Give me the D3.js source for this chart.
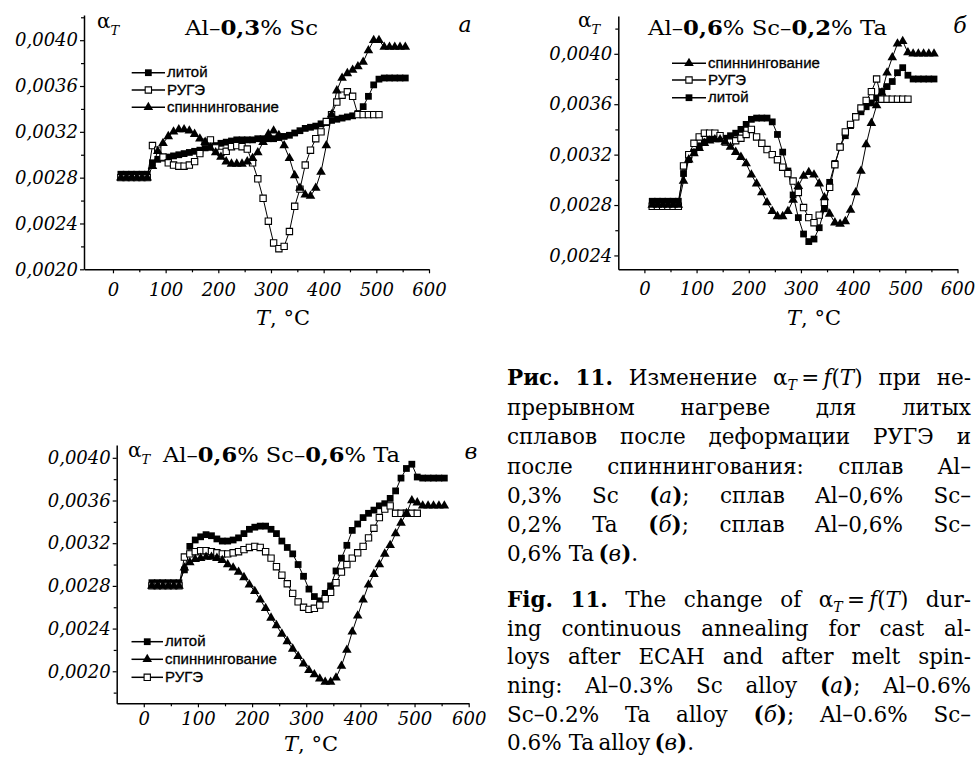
<!DOCTYPE html>
<html>
<head>
<meta charset="utf-8">
<script src="https://cdn.jsdelivr.net/npm/d3@7"></script>
<style>
  body { margin: 0; background: #fff; }
  svg { display: block; }
</style>
</head>
<body>
<svg id="fig" width="975" height="758"></svg>
<script>
// temperature grid, degC
const temps = [15, 25, 35, 45, 55, 65, 75, 85, 95, 105, 115, 125, 135, 145, 155, 165, 175, 185, 195, 205,
  215, 225, 235, 245, 255, 265, 275, 285, 295, 305, 315, 325, 335, 345, 355, 365, 375, 385, 395, 405,
  415, 425, 435, 445, 455, 465, 475, 485, 495, 505, 515, 525, 535, 545, 555];

// (а) Al-0,3% Sc
const castA = [.00283, .00283, .00283, .00283, .00283, .00283,
  .00293, .00296, .00297, .00298, .00299, .0030, .00301, .00302, .00303, .00304,
  .00306, .00307, .00308, .0031, .00311, .00312, .00313, .00313, .00313, .00313,
  .00314, .00314, .00314, .00314, .00315, .00316, .00317, .00319, .00321, .00323,
  .00324, .00325, .00327, .00328, .0033, .00331, .00332, .00333, .00334, .00336,
  .00342, .00351, .00361, .00366, .00367, .00367, .00367, .00367, .00367];
const rugeA = [.0028, .0028, .0028, .0028, .0028, .0028,
  .00308, .00304, .00298, .00293, .00291, .0029, .0029, .00291, .00294, .00301,
  .00311, .00313, .00306, .00302, .00303, .00307, .00308, .00307, .00305, .00293,
  .00279, .00262, .00242, .00223, .00218, .0022, .00233, .00255, .0027, .00291,
  .00304, .00314, .0032, .00329, .00335, .00346, .00352, .00355, .00351, .00335,
  .00335, .00335, .00335, .00335, null, null, null, null, null];
const spinA = [.0028, .0028, .0028, .0028, .0028, .0028,
  .0029, .00303, .0031, .00316, .0032, .00322, .00322, .00321, .00318, .00314,
  .00311, .00306, .00302, .00298, .00294, .00292, .00292, .00292, .00294, .00297,
  .00302, .00311, .00318, .00321, .00317, .00308, .00297, .00282, .00271, .00265,
  .00264, .00271, .00285, .00308, .00335, .00356, .00367, .00371, .00374, .00377,
  .00381, .00391, .004, .004, .00394, .00394, .00394, .00394, .00394];

// (б) Al-0,6% Sc-0,2% Ta
const castB = [.00283, .00283, .00283, .00283, .00283, .00283,
  .00305, .00316, .00322, .00327, .0033, .00332, .00333, .00333, .00333, .00335,
  .00337, .0034, .00344, .00348, .00349, .00349, .00349, .00346, .00336, .00322,
  .00307, .00288, .0027, .00257, .00251, .00253, .00262, .00277, .00298, .00313,
  .00326, .00335, .00343, .0035, .00354, .00358, .00361, .00365, .0037, .00374,
  .00378, .00385, .00389, .00383, .0038, .0038, .0038, .0038, .0038];
const rugeB = [.00279, .00279, .00279, .00279, .00279, .00279,
  .00311, .0032, .00329, .00334, .00337, .00337, .00337, .00335, .0033, .0033,
  .00331, .00333, .00336, .0034, .00334, .00329, .00324, .0032, .00316, .0031,
  .00305, .00299, .0029, .00278, .0027, .00266, .00272, .00282, .00294, .00312,
  .00326, .00338, .00344, .0035, .00357, .00363, .0037, .0038, .00364, .00364,
  .00364, .00364, .00364, .00364, null, null, null, null, null];
const spinB = [.0028, .0028, .0028, .0028, .0028, .0028,
  .00299, .00316, .00321, .00325, .00329, .00331, .00332, .00332, .0033, .00326,
  .00322, .00318, .00313, .00304, .00297, .0029, .00282, .00275, .00271, .00271,
  .00275, .00284, .00295, .00303, .00306, .00304, .00297, .00286, .00273, .00266,
  .00265, .00267, .00276, .0029, .00307, .00328, .00345, .00359, .00369, .00385,
  .00397, .00408, .0041, .00401, .004, .004, .004, .004, .004];

// (в) Al-0,6% Sc-0,6% Ta
const castC = [.00283, .00283, .00283, .00283, .00283, .00283,
  .00295, .00317, .00323, .00326, .00328, .00327, .00324, .00322, .00322, .00323,
  .00325, .00329, .00333, .00335, .00336, .00336, .00333, .00329, .00322, .00316,
  .0031, .003, .00289, .00277, .0027, .00266, .00273, .0028, .00294, .00306,
  .00318, .00332, .00338, .00344, .00348, .00351, .00355, .00357, .00362, .00369,
  .00381, .0039, .00394, .00382, .00381, .00381, .00381, .00381, .00381];
const rugeC = [.0028, .0028, .0028, .0028, .0028, .0028,
  .00307, .0031, .00312, .00313, .00313, .00312, .00311, .0031, .0031, .00311,
  .00312, .00314, .00316, .00317, .00316, .00312, .00306, .00298, .0029, .00282,
  .00273, .00265, .0026, .00258, .00259, .00262, .00268, .00274, .00283, .00293,
  .003, .00306, .00311, .00317, .00325, .00334, .00344, .00352, .00355, .00348,
  .00348, .00348, .00348, .00348, null, null, null, null, null];
const spinC = [.0028, .0028, .0028, .0028, .0028, .0028,
  .00297, .00302, .00305, .00306, .00307, .00307, .00306, .00304, .003, .00297,
  .00293, .00288, .00281, .00275, .00267, .00259, .0025, .00243, .00235, .00228,
  .00221, .00214, .00207, .00201, .00197, .00193, .0019, .0019, .00194, .00205,
  .0022, .00237, .00252, .00267, .00281, .00291, .003, .0031, .00318, .00329,
  .00339, .00348, .0036, .00358, .00355, .00355, .00355, .00355, .00355];

const seriesKeys = ["cast", "ruge", "spin"];
const seriesNames = { cast: "литой", ruge: "РУГЭ", spin: "спиннингование" };

const xTicks = [0, 100, 200, 300, 400, 500, 600];
const xMinor = [50, 150, 250, 350, 450, 550];
const yTicksA = [0.0020, 0.0024, 0.0028, 0.0032, 0.0036, 0.0040];
const yTicksB = [0.0024, 0.0028, 0.0032, 0.0036, 0.0040];
const yTicksC = [0.0020, 0.0024, 0.0028, 0.0032, 0.0036, 0.0040];
const yMinorA = [0.0022, 0.0026, 0.0030, 0.0034, 0.0038, 0.0042];
const yMinorB = [0.0026, 0.0030, 0.0034, 0.0038, 0.0042];
const yMinorC = [0.0018, 0.0022, 0.0026, 0.0030, 0.0034, 0.0038];

const captionRu = [
  "<b>Рис.</b> <b>11.</b> Изменение α<sub>T</sub>\u2009=\u2009<i>f</i>(<i>T</i>) при не-",
  "прерывном нагреве для литых",
  "сплавов после деформации РУГЭ и",
  "после спиннингования: сплав Al–",
  "0,3% Sc <b>(</b><i>а</i><b>)</b>; сплав Al–0,6% Sc–",
  "0,2% Ta <b>(</b><i>б</i><b>)</b>; сплав Al–0,6% Sc–",
  "0,6% Ta\u2009<b>(</b><i>в</i><b>)</b>."
];
const captionEn = [
  "<b>Fig.</b> <b>11.</b> The change of α<sub>T</sub>\u2009=\u2009<i>f</i>(<i>T</i>) dur-",
  "ing continuous annealing for cast al-",
  "loys after ECAH and after melt spin-",
  "ning: Al–0.3% Sc alloy <b>(</b><i>a</i><b>)</b>; Al–0.6%",
  "Sc–0.2% Ta alloy <b>(</b><i>б</i><b>)</b>; Al–0.6% Sc–",
  "0.6% Ta\u2009alloy\u2009<b>(</b><i>в</i><b>)</b>."
];

const serif = "'DejaVu Serif', serif";
const sans = "'Liberation Sans', Arial, sans-serif";
const svg = d3.select("#fig");
const fmtY = d => d3.format(".4f")(d).replace(".", ",");

const panels = [
  {
    xDomain: [-55, 600], xRange: [84, 429], yDomain: [0.0020, 0.00422], yRange: [269.3, 15],
    yTicks: yTicksA, yMinor: yMinorA, xPad: 10,
    data: { cast: castA, ruge: rugeA, spin: spinA },
    legend: ["cast", "ruge", "spin"], legX: [131.7, 165, 167], legY: [72.7, 90, 107.3],
    title: ["Al–", "0,3", "% Sc"], titleX: 185, titleW: 133, titleY: 35,
    alpha: [97, 28], letter: ["а", 465, 32], xTitle: [283, 325]
  },
  {
    xDomain: [-50, 600], xRange: [618.3, 957.5], yDomain: [0.00229, 0.0043], yRange: [269.3, 16],
    yTicks: yTicksB, yMinor: yMinorB, xPad: 9,
    data: { cast: castB, ruge: rugeB, spin: spinB },
    legend: ["spin", "ruge", "cast"], legX: [672, 706, 708], legY: [63.3, 80, 97.7],
    title: ["Al–", "0,6", "% Sc–", "0,2", "% Ta"], titleX: 648, titleW: 239, titleY: 35,
    alpha: [578, 27], letter: ["б", 960, 33], xTitle: [814, 325]
  },
  {
    xDomain: [-50, 600], xRange: [116.7, 468.7], yDomain: [0.0017, 0.00412], yRange: [703.3, 445],
    yTicks: yTicksC, yMinor: yMinorC, xPad: 5,
    data: { cast: castC, ruge: rugeC, spin: spinC },
    legend: ["cast", "spin", "ruge"], legX: [131.5, 163, 165], legY: [641.7, 659.3, 677.3],
    title: ["Al–", "0,6", "% Sc–", "0,6", "% Ta"], titleX: 163, titleW: 237, titleY: 462,
    alpha: [128, 457], letter: ["в", 471, 459], xTitle: [311, 751]
  }
];

const symSquare = d3.symbol(d3.symbolSquare, 46)();
const symOpen = d3.symbol(d3.symbolSquare, 40)();
const symTri = d3.symbol(d3.symbolTriangle, 40)();

function styleMarker(sel, key) {
  if (key === "cast") sel.attr("d", symSquare).attr("fill", "#000");
  else if (key === "ruge") sel.attr("d", symOpen).attr("fill", "#fff").attr("stroke", "#000").attr("stroke-width", 1.1);
  else sel.attr("d", symTri).attr("fill", "#000");
}

function drawPanel(p) {
  const x = d3.scaleLinear().domain(p.xDomain).range(p.xRange);
  const y = d3.scaleLinear().domain(p.yDomain).range(p.yRange);
  const g = svg.append("g");

  // axes
  const gx = g.append("g").attr("transform", `translate(0,${p.yRange[0]})`)
    .call(d3.axisBottom(x).tickValues(xTicks).tickSize(4).tickSizeOuter(0).tickPadding(p.xPad));
  g.append("g").attr("transform", `translate(0,${p.yRange[0]})`)
    .call(d3.axisBottom(x).tickValues(xMinor).tickSize(3).tickFormat(""))
    .call(a => a.select(".domain").remove());
  const gy = g.append("g").attr("transform", `translate(${p.xRange[0]},0)`)
    .call(d3.axisLeft(y).tickValues(p.yTicks).tickSize(4).tickSizeOuter(0).tickPadding(2).tickFormat(fmtY));
  g.append("g").attr("transform", `translate(${p.xRange[0]},0)`)
    .call(d3.axisLeft(y).tickValues(p.yMinor).tickSize(3).tickFormat(""))
    .call(a => a.select(".domain").remove());
  [gx, gy].forEach(a => {
    a.attr("font-family", serif).attr("font-size", 18).attr("font-style", "italic");
    a.selectAll("text").attr("fill", "#000");
  });
  g.selectAll(".domain").attr("stroke", "#000").attr("stroke-width", 1.5);
  g.selectAll(".tick line").attr("stroke", "#000").attr("stroke-width", 1.2);

  // series
  const line = d3.line().x(d => x(d.t)).y(d => y(d.v));
  seriesKeys.forEach(key => {
    const pts = temps.map((t, i) => ({ t, v: p.data[key][i] })).filter(d => d.v != null);
    g.append("path").datum(pts).attr("d", line)
      .attr("fill", "none").attr("stroke", "#000").attr("stroke-width", 1);
  });
  seriesKeys.forEach(key => {
    const pts = temps.map((t, i) => ({ t, v: p.data[key][i] })).filter(d => d.v != null);
    g.append("g").selectAll("path").data(pts).join("path")
      .attr("transform", d => `translate(${x(d.t)},${y(d.v)})`)
      .call(styleMarker, key);
  });

  // legend
  p.legend.forEach((key, i) => {
    const ly = p.legY[i];
    g.append("line").attr("x1", p.legX[0]).attr("x2", p.legX[1]).attr("y1", ly).attr("y2", ly)
      .attr("stroke", "#000").attr("stroke-width", 1.5);
    g.append("path").attr("transform", `translate(${(p.legX[0] + p.legX[1]) / 2},${ly})`).call(styleMarker, key);
    g.append("text").attr("x", p.legX[2]).attr("y", ly + 4.5)
      .attr("font-family", sans).attr("font-size", 15).attr("fill", "#000")
      .attr("stroke", "#000").attr("stroke-width", 0.3)
      .text(seriesNames[key]);
  });

  // title
  const t = g.append("text").attr("x", p.titleX).attr("y", p.titleY)
    .attr("font-family", serif).attr("font-size", 21)
    .attr("textLength", p.titleW).attr("lengthAdjust", "spacingAndGlyphs");
  p.title.forEach((s, i) => t.append("tspan").attr("font-weight", i % 2 ? "bold" : "normal").text(s));

  // alpha_T
  const a = g.append("text").attr("x", p.alpha[0]).attr("y", p.alpha[1])
    .attr("font-family", serif).attr("font-size", 20);
  a.append("tspan").text("α");
  a.append("tspan").attr("dy", 7).attr("font-size", 13).attr("font-style", "italic").text("T");

  // panel letter
  g.append("text").attr("x", p.letter[1]).attr("y", p.letter[2]).attr("text-anchor", "middle")
    .attr("font-family", serif).attr("font-size", 22).attr("font-style", "italic").text(p.letter[0]);

  // x axis title
  const xt = g.append("text").attr("x", p.xTitle[0]).attr("y", p.xTitle[1]).attr("text-anchor", "middle")
    .attr("font-family", serif).attr("font-size", 21);
  xt.append("tspan").attr("font-style", "italic").text("T");
  xt.append("tspan").text(", °C");
}

panels.forEach(drawPanel);

// caption, justified like the printed column
const capSize = 21.5;
function richWord(parent, word) {
  const t = parent.append("text").attr("font-family", serif).attr("font-size", capSize).attr("fill", "#000");
  const parts = word.split(/(<b>.*?<\/b>|<i>.*?<\/i>|<sub>.*?<\/sub>)/).filter(s => s.length);
  let shifted = false;
  parts.forEach(s => {
    const ts = t.append("tspan");
    if (shifted) { ts.attr("dy", -5); shifted = false; }
    if (s.startsWith("<b>")) ts.attr("font-weight", "bold").text(s.slice(3, -4));
    else if (s.startsWith("<i>")) ts.attr("font-style", "italic").text(s.slice(3, -4));
    else if (s.startsWith("<sub>")) {
      ts.attr("font-size", 14).attr("font-style", "italic").attr("dy", 5).text(s.slice(5, -6));
      shifted = true;
    } else ts.text(s);
  });
  return t;
}

function drawCaption(lines, x0, x1, baselines) {
  const g = svg.append("g");
  lines.forEach((ln, li) => {
    const words = ln.split(" ");
    const nodes = words.map(w => richWord(g, w));
    const widths = nodes.map(n => n.node().getComputedTextLength());
    const total = d3.sum(widths);
    const last = li === lines.length - 1;
    const gap = last || words.length < 2 ? 7 : Math.max(4, (x1 - x0 - total) / (words.length - 1));
    let cx = x0;
    nodes.forEach((n, i) => {
      n.attr("x", cx).attr("y", baselines[li]);
      cx += widths[i] + gap;
    });
  });
}

drawCaption(captionRu, 507, 971, [385, 415, 444, 474, 503, 532, 561]);
drawCaption(captionEn, 507, 971, [607, 636, 664, 693, 722, 750]);
</script>
</body>
</html>
